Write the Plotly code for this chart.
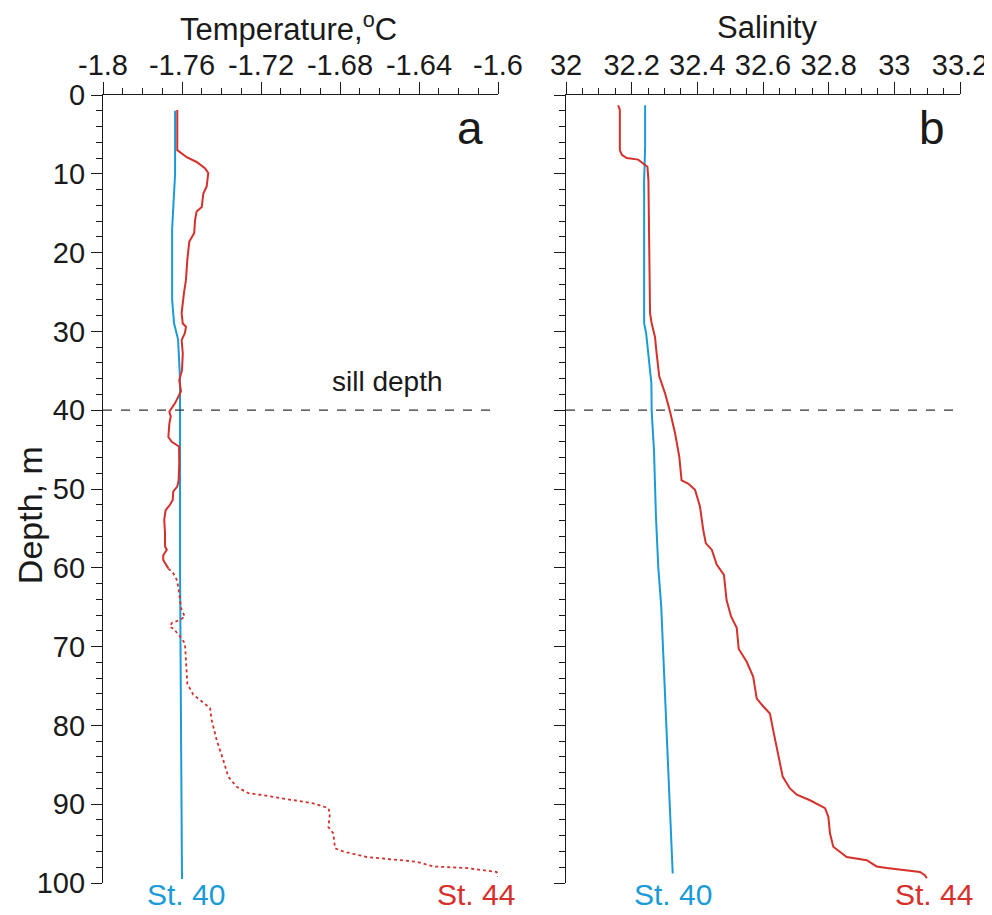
import plotly.graph_objects as go

# ---------------- data ----------------
temp_ticks = [-1.8, -1.76, -1.72, -1.68, -1.64, -1.6]
temp_ticklabels = ["-1.8", "-1.76", "-1.72", "-1.68", "-1.64", "-1.6"]
sal_ticks = [32, 32.2, 32.4, 32.6, 32.8, 33, 33.2]
sal_ticklabels = ["32", "32.2", "32.4", "32.6", "32.8", "33", "33.2"]
depth_ticks = [0, 10, 20, 30, 40, 50, 60, 70, 80, 90, 100]

# Temperature, St. 40
t40_depth = [2, 10, 17, 26, 29, 31, 36, 60, 80, 99.5]
t40_temp = [-1.7635, -1.7635, -1.765, -1.765, -1.764, -1.762, -1.7610, -1.7610, -1.7605, -1.7600]

# Temperature, St. 44 (solid part)
t44_depth_solid = [1.9, 7.0, 7.9, 8.5, 9.3, 9.9, 11.6, 12.5, 14.2, 14.8, 15.9, 17.5, 18.6, 20.9,
                   23.5, 25.1, 27.7, 29.0, 29.4, 30.2, 31.1, 32.8, 34.9, 36.2, 37.6, 39.1, 40.2,
                   40.8, 41.7, 43.4, 44.0, 44.6, 46.7, 48.9, 49.7, 50.3, 51.4, 52.0, 52.7, 53.9,
                   55.6, 57.3, 57.7, 58.4, 59.0, 60.1]
t44_temp_solid = [-1.7624, -1.7624, -1.7576, -1.7526, -1.7484, -1.7467, -1.7475, -1.7492, -1.7500,
                  -1.7526, -1.7534, -1.7538, -1.7563, -1.7573, -1.7580, -1.7590, -1.7602, -1.7596,
                  -1.7580, -1.7585, -1.7602, -1.7596, -1.7600, -1.7614, -1.7605, -1.7635, -1.7664,
                  -1.7657, -1.7664, -1.7669, -1.7652, -1.7615, -1.7614, -1.7617, -1.7624, -1.7644,
                  -1.7647, -1.7661, -1.7683, -1.7690, -1.7686, -1.7686, -1.7677, -1.7695, -1.7695,
                  -1.7669]

# Temperature, St. 44 (dotted part)
t44_depth_dot = [60.1, 60.7, 61.5, 62.4, 64.1, 65.4, 66.2, 66.6, 67.0, 67.5, 67.7, 68.7, 69.6,
                 71.3, 73.0, 74.7, 76.1, 76.8, 77.8, 79.3, 81.9, 84.4, 86.5, 87.8, 88.6, 88.8,
                 89.3, 89.9, 90.5, 91.2, 92.9, 93.7, 95.6, 96.0, 96.7, 97.3, 97.9, 98.1, 98.6, 99.2]
t44_temp_dot = [-1.7669, -1.7644, -1.7627, -1.7619, -1.7610, -1.7602, -1.7585, -1.7610, -1.7652,
                -1.7661, -1.7644, -1.7610, -1.7585, -1.7580, -1.7576, -1.7573, -1.7543, -1.7509,
                -1.7458, -1.7450, -1.7424, -1.7391, -1.7366, -1.7323, -1.7264, -1.7205, -1.7087,
                -1.6935, -1.6859, -1.6851, -1.6859, -1.6834, -1.6825, -1.6783, -1.6665, -1.6412,
                -1.6328, -1.6158, -1.6007, -1.6000]

# Salinity, St. 40
s40_depth = [1.3, 6.6, 10.8, 29.0, 30.2, 33.2, 36.6, 40.2, 45.1, 53.5, 59.9, 64.9, 70.4, 76.8,
             81.9, 89.5, 98.8]
s40_sal = [32.241, 32.241, 32.238, 32.238, 32.244, 32.251, 32.260, 32.261, 32.268, 32.274,
           32.281, 32.290, 32.296, 32.302, 32.307, 32.315, 32.325]

# Salinity, St. 44
s44_depth = [1.3, 1.9, 7.0, 7.6, 8.0, 8.2, 8.7, 9.1, 10.8, 23.5, 27.7, 29.0, 30.7, 32.8, 35.7,
             37.9, 40.2, 42.9, 45.9, 48.9, 49.3, 50.1, 52.2, 55.2, 56.9, 57.7, 59.6, 60.9, 64.1,
             66.2, 67.6, 70.3, 71.9, 73.8, 76.6, 77.6, 78.5, 80.6, 82.7, 84.8, 86.5, 88.0, 88.8,
             89.5, 90.5, 91.6, 93.7, 95.4, 96.7, 97.1, 97.9, 98.1, 98.6, 99.0, 99.4]
s44_sal = [32.159, 32.164, 32.164, 32.170, 32.185, 32.220, 32.235, 32.248, 32.251, 32.254,
           32.256, 32.261, 32.271, 32.276, 32.284, 32.302, 32.317, 32.332, 32.345, 32.352,
           32.372, 32.393, 32.408, 32.418, 32.426, 32.444, 32.459, 32.481, 32.489, 32.503,
           32.520, 32.526, 32.550, 32.570, 32.581, 32.601, 32.621, 32.631, 32.642, 32.652,
           32.660, 32.682, 32.703, 32.743, 32.789, 32.799, 32.804, 32.814, 32.855, 32.916,
           32.946, 32.977, 33.078, 33.093, 33.099]

sill_depth = 40

# ---------------- style ----------------
BLUE = "#1A9BD7"
RED = "#D6302B"
INK = "#1a1a1a"
FONT = "Arial, Liberation Sans, sans-serif"

fig = go.Figure()

fig.add_trace(go.Scatter(x=t40_temp, y=t40_depth, mode="lines", xaxis="x", yaxis="y",
                         line=dict(color=BLUE, width=2), showlegend=False))
fig.add_trace(go.Scatter(x=t44_temp_solid, y=t44_depth_solid, mode="lines", xaxis="x", yaxis="y",
                         line=dict(color=RED, width=2), showlegend=False))
fig.add_trace(go.Scatter(x=t44_temp_dot, y=t44_depth_dot, mode="lines", xaxis="x", yaxis="y",
                         line=dict(color=RED, width=1.8, dash="dot"), showlegend=False))
fig.add_trace(go.Scatter(x=s40_sal, y=s40_depth, mode="lines", xaxis="x2", yaxis="y2",
                         line=dict(color=BLUE, width=2), showlegend=False))
fig.add_trace(go.Scatter(x=s44_sal, y=s44_depth, mode="lines", xaxis="x2", yaxis="y2",
                         line=dict(color=RED, width=2), showlegend=False))

# sill depth lines
for xr, yr in (("x", "y"), ("x2", "y2")):
    fig.add_shape(type="line", xref=f"{xr} domain", yref=yr, x0=0, x1=1,
                  y0=sill_depth, y1=sill_depth,
                  line=dict(color="#333333", width=1.3, dash="dash"))

TICKSIZE = 29
common_x = dict(side="top", showline=True, linecolor=INK, linewidth=1.2,
                ticks="outside", ticklen=12, tickwidth=1.2, tickcolor=INK,
                ticklabelstandoff=-5,
                showgrid=False, zeroline=False,
                tickfont=dict(family=FONT, size=TICKSIZE, color=INK))
common_y = dict(range=[100, 0], showline=True, linecolor=INK, linewidth=1.2,
                ticks="outside", ticklen=11, tickwidth=1.2, tickcolor=INK,
                tickvals=depth_ticks, showgrid=False, zeroline=False,
                minor=dict(dtick=2, tick0=0, ticks="outside", ticklen=6, tickwidth=1,
                           tickcolor=INK, showgrid=False),
                tickfont=dict(family=FONT, size=TICKSIZE, color=INK))

W, H = 992, 915
ML, MT = 95, 87
PW, PH = 857, 788

fig.update_layout(
    width=W, height=H,
    margin=dict(l=ML, r=W - ML - PW, t=MT, b=H - MT - PH),
    paper_bgcolor="white", plot_bgcolor="white",
    xaxis=dict(domain=[0, 395 / PW], range=[-1.8, -1.6], anchor="y",
               tickvals=temp_ticks, ticktext=temp_ticklabels,
               minor=dict(dtick=0.01, tick0=-1.8, ticks="outside", ticklen=6, tickwidth=1,
                          tickcolor=INK, showgrid=False),
               **common_x),
    xaxis2=dict(domain=[463 / PW, 1], range=[32, 33.2], anchor="y2",
                tickvals=sal_ticks, ticktext=sal_ticklabels,
                minor=dict(dtick=0.05, tick0=32, ticks="outside", ticklen=6, tickwidth=1,
                           tickcolor=INK, showgrid=False),
                **common_x),
    yaxis=dict(domain=[0, 1], anchor="x", **common_y),
    yaxis2=dict(domain=[0, 1], anchor="x2", showticklabels=False, **common_y),
)

ann_font = dict(family=FONT, size=30)
annotations = [
    dict(text="Temperature,<sup>o</sup>C", xref="x domain", yref="paper", x=0.47, y=1.086,
         yanchor="middle", showarrow=False, font=dict(family=FONT, size=31, color=INK)),
    dict(text="Salinity", xref="x2 domain", yref="paper", x=0.51, y=1.086,
         yanchor="middle", showarrow=False, font=dict(family=FONT, size=31, color=INK)),
    dict(text="Depth, m", xref="paper", yref="paper", x=-0.085, y=0.467, textangle=-90,
         xanchor="center", yanchor="middle", showarrow=False,
         font=dict(family=FONT, size=34, color=INK)),
    dict(text="a", xref="x domain", yref="y", x=0.967, y=4.2, showarrow=False,
         font=dict(family=FONT, size=46, color=INK)),
    dict(text="b", xref="x2 domain", yref="y2", x=0.967, y=4.2, showarrow=False,
         font=dict(family=FONT, size=46, color=INK)),
    dict(text="sill depth", xref="x domain", yref="y", x=0.866, y=36.4, showarrow=False,
         font=dict(family=FONT, size=28, color=INK)),
    dict(text="St. 40", xref="x", yref="paper", x=-1.758, y=-0.015, showarrow=False,
         yanchor="middle", font=dict(ann_font, color=BLUE)),
    dict(text="St. 44", xref="x", yref="paper", x=-1.6112, y=-0.015, showarrow=False,
         yanchor="middle", font=dict(ann_font, color=RED)),
    dict(text="St. 40", xref="x2", yref="paper", x=32.326, y=-0.015, showarrow=False,
         yanchor="middle", font=dict(ann_font, color=BLUE)),
    dict(text="St. 44", xref="x2", yref="paper", x=33.121, y=-0.015, showarrow=False,
         yanchor="middle", font=dict(ann_font, color=RED)),
]
fig.update_layout(annotations=annotations)

fig.write_html("out.html")
